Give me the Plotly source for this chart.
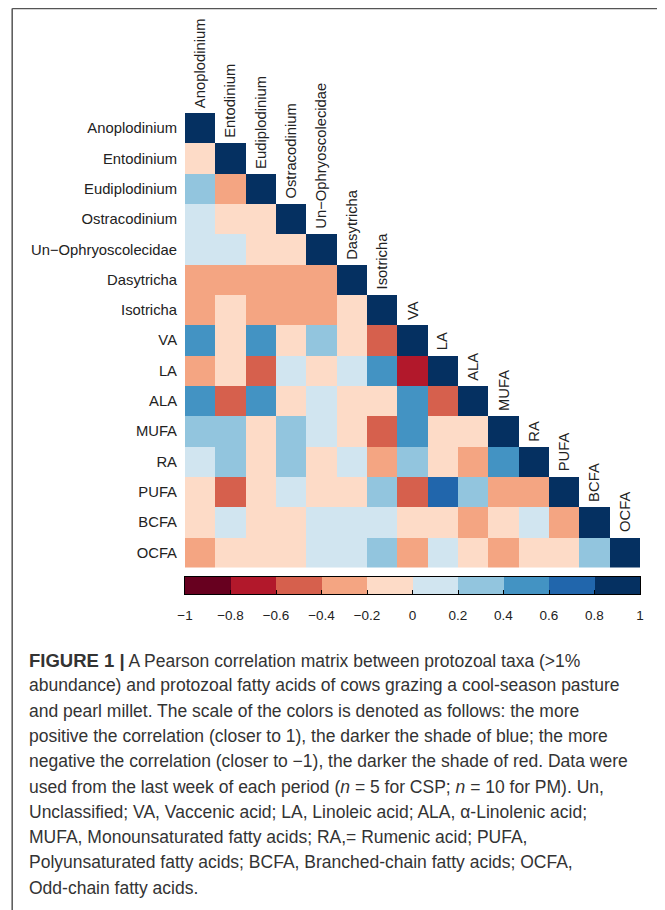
import plotly.graph_objects as go

# ---------------- data ----------------
labels = ["Anoplodinium", "Entodinium", "Eudiplodinium", "Ostracodinium",
          "Un\u2212Ophryoscolecidae", "Dasytricha", "Isotricha", "VA", "LA",
          "ALA", "MUFA", "RA", "PUFA", "BCFA", "OCFA"]

# lower-triangle correlation values, one list per row
r_anoplodinium = [1.0]
r_entodinium = [-0.12, 1.0]
r_eudiplodinium = [0.32, -0.34, 1.0]
r_ostracodinium = [0.1, -0.1, -0.12, 1.0]
r_unophryo = [0.12, 0.1, -0.1, -0.12, 1.0]
r_dasytricha = [-0.3, -0.3, -0.28, -0.3, -0.32, 1.0]
r_isotricha = [-0.3, -0.1, -0.3, -0.28, -0.3, -0.1, 1.0]
r_va = [0.5, -0.12, 0.48, -0.1, 0.3, -0.1, -0.5, 1.0]
r_la = [-0.3, -0.1, -0.52, 0.1, -0.1, 0.12, 0.5, -0.72, 1.0]
r_ala = [0.5, -0.5, 0.48, -0.1, 0.1, -0.1, -0.12, 0.5, -0.52, 1.0]
r_mufa = [0.3, 0.32, -0.1, 0.3, 0.1, -0.12, -0.5, 0.5, -0.1, -0.1, 1.0]
r_ra = [0.1, 0.3, -0.1, 0.3, -0.1, 0.1, -0.3, 0.3, -0.12, -0.3, 0.5, 1.0]
r_pufa = [-0.1, -0.5, -0.12, 0.1, -0.1, -0.1, 0.3, -0.52, 0.7, 0.3, -0.3, -0.3, 1.0]
r_bcfa = [-0.1, 0.1, -0.1, -0.12, 0.1, 0.12, 0.1, -0.1, -0.1, -0.3, -0.1, 0.1, -0.32, 1.0]
r_ocfa = [-0.3, -0.1, -0.12, -0.1, 0.1, 0.1, 0.3, -0.3, 0.1, -0.1, -0.3, -0.1, -0.12, 0.3, 1.0]

rows = [r_anoplodinium, r_entodinium, r_eudiplodinium, r_ostracodinium, r_unophryo,
        r_dasytricha, r_isotricha, r_va, r_la, r_ala, r_mufa, r_ra, r_pufa, r_bcfa, r_ocfa]

tick_vals = [-1, -0.8, -0.6, -0.4, -0.2, 0, 0.2, 0.4, 0.6, 0.8, 1]
tick_text = ["\u22121", "\u22120.8", "\u22120.6", "\u22120.4", "\u22120.2", "0",
             "0.2", "0.4", "0.6", "0.8", "1"]

bin_colors = ["#67001F", "#B2182B", "#D6604D", "#F4A582", "#FDDBC7",
              "#D1E5F0", "#92C5DE", "#4393C3", "#2166AC", "#053061"]

caption_lines = [
    "<span style='font-size:18.5px'><b>FIGURE 1 |</b></span> A Pearson correlation matrix between protozoal taxa (>1%",
    "abundance) and protozoal fatty acids of cows grazing a cool-season pasture",
    "and pearl millet. The scale of the colors is denoted as follows: the more",
    "positive the correlation (closer to 1), the darker the shade of blue; the more",
    "negative the correlation (closer to \u22121), the darker the shade of red. Data were",
    "used from the last week of each period (<i>n</i> = 5 for CSP; <i>n</i> = 10 for PM). Un,",
    "Unclassified; VA, Vaccenic acid; LA, Linoleic acid; ALA, \u03b1-Linolenic acid;",
    "MUFA, Monounsaturated fatty acids; RA,= Rumenic acid; PUFA,",
    "Polyunsaturated fatty acids; BCFA, Branched-chain fatty acids; OCFA,",
    "Odd-chain fatty acids.",
]

# ---------------- layout geometry (page pixels; page body has an 8px margin) ----------------
OFF = 8
W, H = 665 - OFF, 910 - OFF
HM_L, HM_R, HM_T, HM_B = 185, 640.5, 113, 567.5      # heatmap box (page px)
CB_T, CB_B = 577, 594                                 # colour bar box (page px)

ML = HM_L - OFF
MR = W - (HM_R - OFF)
MT = HM_T - OFF
MB = H - (CB_B - OFF)
PW, PH = W - ML - MR, H - MT - MB


def px2x(px):
    return (px - OFF - ML) / PW


def py2y(py):
    return (H - MB - (py - OFF)) / PH


n = len(labels)
z = [[(rows[i][j] if j <= i else None) for j in range(n)] for i in range(n)]

colorscale = []
for k, c in enumerate(bin_colors):
    colorscale.append([k / len(bin_colors), c])
    colorscale.append([(k + 1) / len(bin_colors), c])

# colour-bar bricks: edges are the tick values, each brick shows its bin
bin_mids = [(tick_vals[k] + tick_vals[k + 1]) / 2 for k in range(len(tick_vals) - 1)]

fig = go.Figure()
fig.add_trace(go.Heatmap(
    z=z, x=labels, y=labels, zmin=-1, zmax=1, colorscale=colorscale,
    xgap=0, ygap=0, hoverongaps=False, showscale=False,
    xaxis="x", yaxis="y",
))
fig.add_trace(go.Heatmap(
    z=[bin_mids], x=tick_vals, y=[0, 1], zmin=-1, zmax=1, colorscale=colorscale,
    showscale=False, xaxis="x2", yaxis="y2", hoverinfo="skip",
))

annotations = []
for j, lab in enumerate(labels):
    annotations.append(dict(
        x=lab, y=lab, xref="x", yref="y", text=lab, showarrow=False,
        textangle=-90, yanchor="bottom", xanchor="center",
        yshift=(HM_B - HM_T) / n / 2 + 3,
        font=dict(family="Liberation Sans", size=14.8, color="#222"),
    ))

cap_top, cap_step = 660, 25.3
for i, line in enumerate(caption_lines):
    annotations.append(dict(
        x=px2x(27), y=py2y(cap_top + i * cap_step), xref="paper", yref="paper",
        text=line, showarrow=False, xanchor="left", yanchor="middle", align="left",
        font=dict(family="Liberation Sans", size=17.5, color="#333"),
    ))

shapes = [
    dict(type="line", xref="paper", yref="paper", x0=px2x(12), x1=px2x(12),
         y0=py2y(8.6), y1=py2y(920), line=dict(color="#555", width=1.5)),
    dict(type="line", xref="paper", yref="paper", x0=px2x(12), x1=px2x(680),
         y0=py2y(8.6), y1=py2y(8.6), line=dict(color="#555", width=1.5)),
]

fig.update_layout(
    width=W, height=H, margin=dict(l=ML, r=MR, t=MT, b=MB, autoexpand=False),
    paper_bgcolor="white", plot_bgcolor="white",
    annotations=annotations, shapes=shapes, showlegend=False,
    xaxis=dict(domain=[0, 1], range=[-0.5, n - 0.5], autorange=False,
               showticklabels=False, showgrid=False, zeroline=False,
               ticks="", showline=False, anchor="y"),
    yaxis=dict(domain=[py2y(HM_B), 1], range=[n - 0.5, -0.5], autorange=False,
               showgrid=False, zeroline=False, ticks="", showline=False,
               ticklabelstandoff=7, anchor="x",
               tickfont=dict(family="Liberation Sans", size=14.8, color="#222")),
    xaxis2=dict(domain=[0, 1], range=[-1, 1], anchor="y2", tickvals=tick_vals,
                ticktext=tick_text, ticks="inside", ticklen=4, tickcolor="black",
                showline=True, mirror=True, linecolor="black", linewidth=1,
                showgrid=False, zeroline=False, ticklabelstandoff=9,
                tickfont=dict(family="Liberation Sans", size=13.5, color="#222")),
    yaxis2=dict(domain=[0, py2y(CB_T)], range=[0, 1], anchor="x2",
                showticklabels=False, ticks="", showgrid=False, zeroline=False,
                showline=True, mirror=True, linecolor="black", linewidth=1),
    font=dict(family="Liberation Sans"),
)

fig.write_html("out.html")
